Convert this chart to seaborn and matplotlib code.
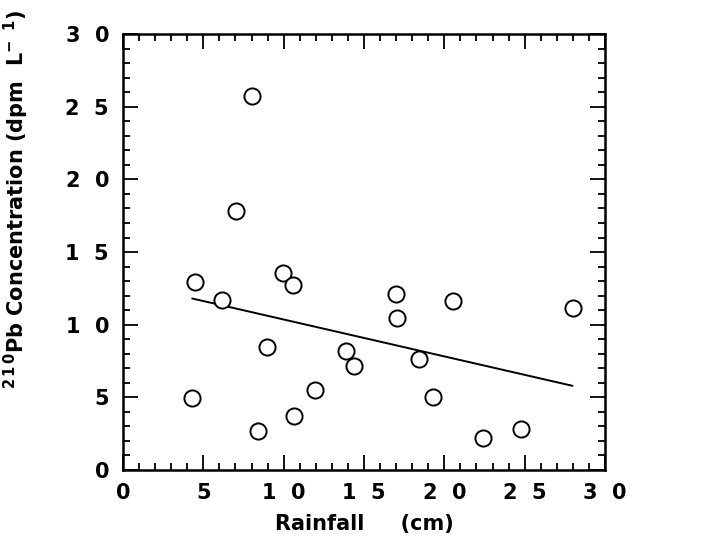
import numpy as np
import pandas as pd
import matplotlib
matplotlib.use("Agg")
import matplotlib.pyplot as plt
from matplotlib.ticker import MultipleLocator, FixedLocator
import seaborn as sns

# Data
rainfall = [4.48, 6.18, 9.98, 10.6, 4.31, 8.42, 8.98, 10.66, 11.95, 13.88, 14.37,
            16.97, 17.07, 18.42, 19.31, 20.52, 22.38, 24.75, 27.98, 8.01, 7.01]
pb210 = [12.92, 11.70, 13.58, 12.73, 4.93, 2.68, 8.49, 3.72, 5.51, 8.21, 7.18,
         12.09, 10.44, 7.64, 5.00, 11.63, 2.22, 2.80, 11.13, 25.74, 17.85]
fit_intercept = 12.9
fit_slope = -0.254
tick_values = [0, 5, 10, 15, 20, 25, 30]
tick_labels = ["0", "5", "1  0", "1  5", "2  0", "2  5", "3  0"]

sns.set_theme(style="ticks", rc={"text.color": "black", "axes.labelcolor": "black",
                                 "xtick.color": "black", "ytick.color": "black",
                                 "axes.edgecolor": "black"})
plt.rcParams["font.family"] = ["DejaVu Sans"]
plt.rcParams["mathtext.fontset"] = "dejavusans"

df = pd.DataFrame({"Rainfall": rainfall, "Pb": pb210})

fig = plt.figure(figsize=(7.08, 5.51), dpi=100)
ax = fig.add_axes([0.1737, 0.147, 0.6808, 0.791])

sns.scatterplot(data=df, x="Rainfall", y="Pb", ax=ax, marker="o", s=135,
                facecolor="white", edgecolor="black", linewidth=1.4, zorder=3)

xfit = np.array([min(rainfall), max(rainfall)])
ax.plot(xfit, fit_intercept + fit_slope * xfit, color="black", lw=1.4, zorder=2)

ax.set_xlim(0, 30)
ax.set_ylim(0, 30)
ax.xaxis.set_major_locator(FixedLocator(tick_values))
ax.yaxis.set_major_locator(FixedLocator(tick_values))
ax.set_xticklabels(tick_labels, fontsize=15, fontweight="bold", color="black")
ax.set_yticklabels(tick_labels, fontsize=15, fontweight="bold", color="black")
ax.xaxis.set_minor_locator(MultipleLocator(1))
ax.yaxis.set_minor_locator(MultipleLocator(1))
ax.tick_params(which="both", direction="in", top=True, right=True, color="black", width=1.3)
ax.tick_params(which="major", length=11)
ax.tick_params(axis="x", which="major", pad=9)
ax.tick_params(axis="y", which="major", pad=10)
ax.tick_params(which="minor", length=5)
for sp in ax.spines.values():
    sp.set_linewidth(1.8)
    sp.set_color("black")

ax.set_xlabel("Rainfall     (cm)", fontsize=15, fontweight="bold", labelpad=8, color="black")
ax.set_ylabel(r"$^{\mathbf{2\,1\,0}}$Pb Concentration (dpm  L$^{\mathbf{-\ \ 1}}$)",
              fontsize=15, fontweight="bold", color="black")
ax.yaxis.set_label_coords(-0.19, 0.62)

fig.savefig("out.png", dpi=100, facecolor="white")
